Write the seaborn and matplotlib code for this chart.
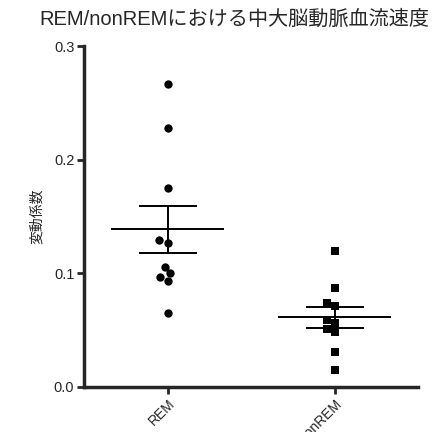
import numpy as np
import pandas as pd
import seaborn as sns
import matplotlib.pyplot as plt

# values
groups = ["REM", "nonREM"]
rem_values = [0.267, 0.228, 0.175, 0.129, 0.127, 0.106, 0.100, 0.097, 0.093, 0.065]
nonrem_values = [0.120, 0.087, 0.074, 0.071, 0.059, 0.056, 0.051, 0.048, 0.031, 0.015]
y_ticks = [0.0, 0.1, 0.2, 0.3]
title = "REM/nonREMにおける中大脳動脈血流速度"
y_label = "変動係数"

df = pd.DataFrame({
    "group": ["REM"] * len(rem_values) + ["nonREM"] * len(nonrem_values),
    "value": rem_values + nonrem_values,
})

sns.set_style("ticks")
plt.rcParams["font.family"] = ["Liberation Sans", "Noto Sans CJK JP", "DejaVu Sans"]

fig = plt.figure(figsize=(4.46, 4.32), dpi=100)
ax = fig.add_axes([84 / 446, 45 / 432, 334 / 446, 341 / 432])

sns.swarmplot(data=df[df.group == "REM"], x="group", y="value", order=groups,
              color="black", marker="o", size=6, ax=ax)
sns.swarmplot(data=df[df.group == "nonREM"], x="group", y="value", order=groups,
              color="black", marker="s", size=5.5, ax=ax)

# mean and SEM
stats = df.groupby("group")["value"].agg(["mean", "sem"]).reindex(groups)
xs = np.arange(len(groups))
ax.hlines(stats["mean"], xs - 0.34, xs + 0.34, color="black", lw=1.4, zorder=3)
ax.errorbar(xs, stats["mean"], yerr=stats["sem"], fmt="none", ecolor="black",
            elinewidth=1.4, capsize=21, capthick=1.4, zorder=3)

ax.set_xlim(-0.5, 1.5)
ax.set_ylim(0, 0.3)
ax.set_yticks(y_ticks)
ax.set_yticklabels([f"{t:.1f}" for t in y_ticks], fontsize=10.5)
ax.set_xticks(xs)
ax.set_xticklabels(groups, rotation=45, ha="right", rotation_mode="anchor", fontsize=10)
ax.set_xlabel("")
ax.set_ylabel(y_label, fontsize=10, labelpad=7)
for side in ["left", "bottom"]:
    ax.spines[side].set_linewidth(2.5)
sns.despine(ax=ax)
ax.tick_params(width=2, length=5, pad=2)

fig.text(0.525, 0.955, title, ha="center", va="center", fontsize=14.5)

fig.savefig("out.png", dpi=100)
